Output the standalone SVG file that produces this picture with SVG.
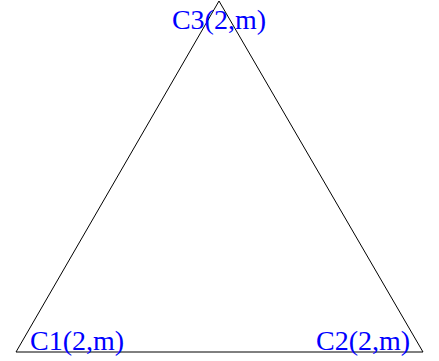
<svg xmlns="http://www.w3.org/2000/svg" width="439" height="361" viewBox="0 0 439 361">
<style>
.lbl{font-family:"Liberation Serif","Times New Roman",serif;font-size:28px;fill:#0000ff}
.edge{stroke:#000;stroke-width:1;fill:none}
</style>
<rect width="439" height="361" fill="#fff"/>
<g id="connectors">
<line class="edge" x1="219" y1="1" x2="16" y2="352"/>
<line class="edge" x1="219" y1="1" x2="423" y2="352"/>
<line class="edge" x1="16" y1="352" x2="423" y2="352"/>
</g>
<g id="C3"><text class="lbl" x="219" y="29" text-anchor="middle">C3(2,m)</text></g>
<g id="C1"><text class="lbl" x="30" y="350">C1(2,m)</text></g>
<g id="C2"><text class="lbl" x="316" y="350">C2(2,m)</text></g>
</svg>
